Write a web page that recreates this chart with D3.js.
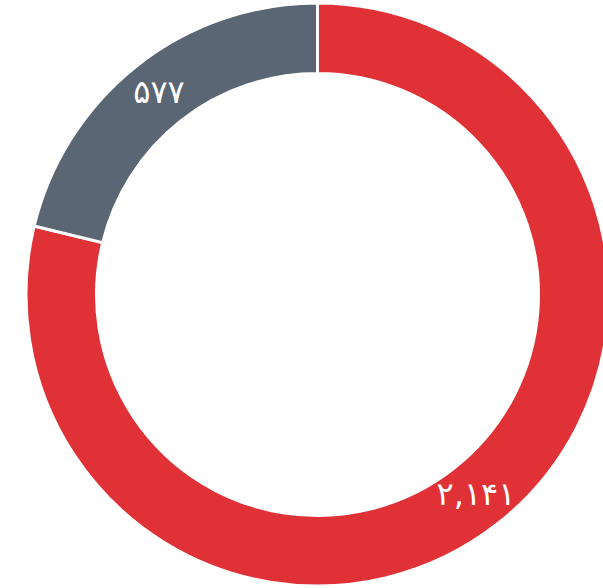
<!DOCTYPE html>
<html>
<head>
<meta charset="utf-8">
<script src="https://cdn.jsdelivr.net/npm/d3@7"></script>
<style>
html,body{margin:0;padding:0;background:#fff;overflow:hidden;}
svg{display:block;}
</style>
</head>
<body>
<svg id="chart" width="603" height="588"></svg>
<script>
const categories = ["A", "B"];
const values = [2141, 577];
const valueLabels = ["۲,۱۴۱", "۵۷۷"];
const colors = ["#e03236", "#5a6673"];

const svg = d3.select("#chart");
const cx = 317.5, cy = 294.5;
const outerR = 291.5, innerR = 221;

const pie = d3.pie().sort(null).value(d => d.value);
const data = categories.map((c, i) => ({cat: c, value: values[i], label: valueLabels[i], color: colors[i]}));
const arcs = pie(data);
const arc = d3.arc().innerRadius(innerR).outerRadius(outerR);

const g = svg.append("g").attr("transform", `translate(${cx},${cy})`);
g.selectAll("path").data(arcs).join("path")
  .attr("d", arc)
  .attr("fill", d => d.data.color)
  .attr("stroke", "#fff")
  .attr("stroke-width", 3);

g.selectAll("text").data(arcs).join("text")
  .attr("transform", d => `translate(${arc.centroid(d)})`)
  .attr("text-anchor", "middle")
  .attr("dy", "0.3em")
  .attr("fill", "#fff")
  .style("font-family", "'DejaVu Sans', sans-serif")
  .style("font-size", "32px")
  .text(d => d.data.label);
</script>
</body>
</html>
